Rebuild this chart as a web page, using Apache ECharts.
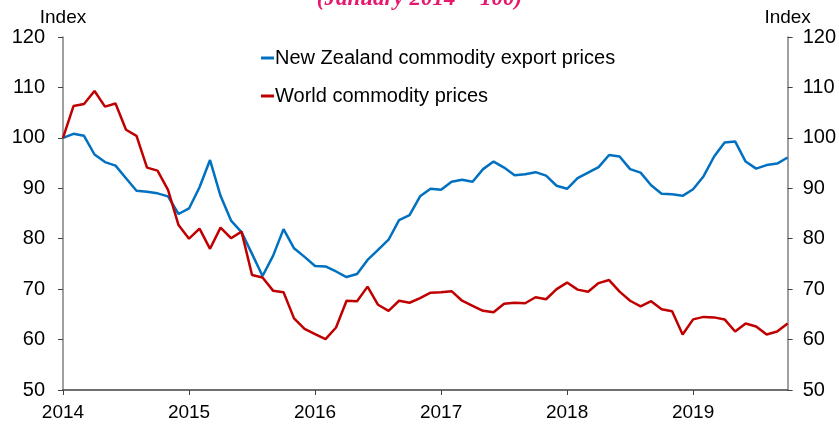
<!DOCTYPE html>
<html>
<head>
<meta charset="utf-8">
<script src="https://cdn.jsdelivr.net/npm/echarts@6/dist/echarts.min.js"></script>
<style>
html, body { margin: 0; padding: 0; background: #fff }
#chart { width: 839px; height: 425px }
</style>
</head>
<body>
<div id="chart"></div>
<script>
// monthly index, January 2014 = 100
const yearLabels = ['2014', '2015', '2016', '2017', '2018', '2019']
const startYear = 2014
const monthCount = 70 // Jan 2014 .. Oct 2019

const nzPrices = [
  100.0, 100.8, 100.4, 96.7, 95.2, 94.5, 92.0, 89.5, 89.3, 89.0, 88.4, 84.9,
  86.0, 90.2, 95.6, 88.5, 83.6, 81.3, 77.0, 72.6, 76.6, 81.9, 78.1, 76.4,
  74.6, 74.5, 73.5, 72.4, 73.0, 75.8, 77.8, 79.8, 83.7, 84.7, 88.4, 89.9,
  89.7, 91.3, 91.7, 91.3, 93.8, 95.3, 94.1, 92.6, 92.8, 93.2, 92.5, 90.5,
  89.9, 92.0, 93.1, 94.2, 96.6, 96.3, 93.8, 93.1, 90.6, 88.9, 88.8, 88.5,
  89.8, 92.4, 96.3, 99.1, 99.3, 95.3, 93.9, 94.6, 94.9, 96.1
]

const worldPrices = [
  100.0, 106.3, 106.7, 109.3, 106.2, 106.8, 101.6, 100.4, 94.1, 93.5, 89.7, 82.7,
  80.0, 82.0, 78.0, 82.2, 80.1, 81.4, 72.8, 72.3, 69.7, 69.4, 64.2, 62.1,
  61.1, 60.1, 62.4, 67.7, 67.6, 70.5, 66.9, 65.7, 67.7, 67.3, 68.2, 69.3,
  69.4, 69.6, 67.7, 66.7, 65.7, 65.4, 67.1, 67.3, 67.2, 68.4, 68.0, 70.0,
  71.3, 69.9, 69.5, 71.2, 71.8, 69.5, 67.7, 66.6, 67.6, 66.0, 65.6, 61.0,
  64.0, 64.5, 64.4, 64.0, 61.6, 63.2, 62.6, 61.0, 61.6, 63.2
]

const months = []
for (let i = 0; i < monthCount; i++) {
  const y = startYear + Math.floor(i / 12)
  const m = (i % 12) + 1
  months.push(y + '-' + (m < 10 ? '0' + m : m))
}

const font = 'Liberation Sans, Arial, sans-serif'
const axisGrey = '#808080'
const isJan = i => i % 12 === 0

function yAxisDef(side) {
  return {
    type: 'value',
    position: side,
    min: 50,
    max: 120,
    interval: 10,
    name: 'Index',
    nameLocation: 'end',
    nameGap: 9,
    nameTextStyle: { color: '#000', fontSize: 19, fontFamily: font, align: 'center' },
    axisLine: { show: true, lineStyle: { color: axisGrey, width: 1.5 } },
    axisTick: { show: true, inside: false, length: 5, lineStyle: { color: '#404040' } },
    axisLabel: { color: '#000', fontSize: 20, fontFamily: font, margin: side === 'left' ? 18 : 15 },
    splitLine: { show: false }
  }
}

const chart = echarts.init(document.getElementById('chart'))

chart.setOption({
  animation: false,
  title: {
    text: '(January 2014 = 100)',
    left: 'center',
    top: -17,
    textStyle: { color: '#e6196e', fontSize: 23, fontStyle: 'italic', fontWeight: 'bold', fontFamily: 'Liberation Serif, Times New Roman, serif' }
  },
  grid: { left: 63, right: 50, top: 37, bottom: 35, containLabel: false },
  legend: {
    orient: 'vertical',
    left: 256,
    top: 42,
    itemGap: 16,
    itemWidth: 13,
    itemHeight: 3,
    icon: 'rect',
    textStyle: { color: '#000', fontSize: 20, lineHeight: 22, fontFamily: font, padding: [0, 0, 0, -4] },
    data: ['New Zealand commodity export prices', 'World commodity prices']
  },
  xAxis: {
    type: 'category',
    data: months,
    boundaryGap: false,
    axisLine: { show: true, lineStyle: { color: '#404040', width: 1.5 } },
    axisTick: { show: true, interval: isJan, length: 5, lineStyle: { color: '#404040' } },
    axisLabel: {
      interval: isJan,
      color: '#000',
      fontSize: 19,
      fontFamily: font,
      margin: 13,
      formatter: (v, i) => yearLabels[i / 12]
    },
    splitLine: { show: false }
  },
  yAxis: [yAxisDef('left'), yAxisDef('right')],
  series: [
    {
      name: 'New Zealand commodity export prices',
      type: 'line',
      data: nzPrices,
      yAxisIndex: 0,
      showSymbol: false,
      lineStyle: { color: '#0070c0', width: 2.5 },
      itemStyle: { color: '#0070c0' }
    },
    {
      name: 'World commodity prices',
      type: 'line',
      data: worldPrices,
      yAxisIndex: 0,
      showSymbol: false,
      lineStyle: { color: '#c00000', width: 2.5 },
      itemStyle: { color: '#c00000' }
    }
  ]
})
</script>
</body>
</html>
